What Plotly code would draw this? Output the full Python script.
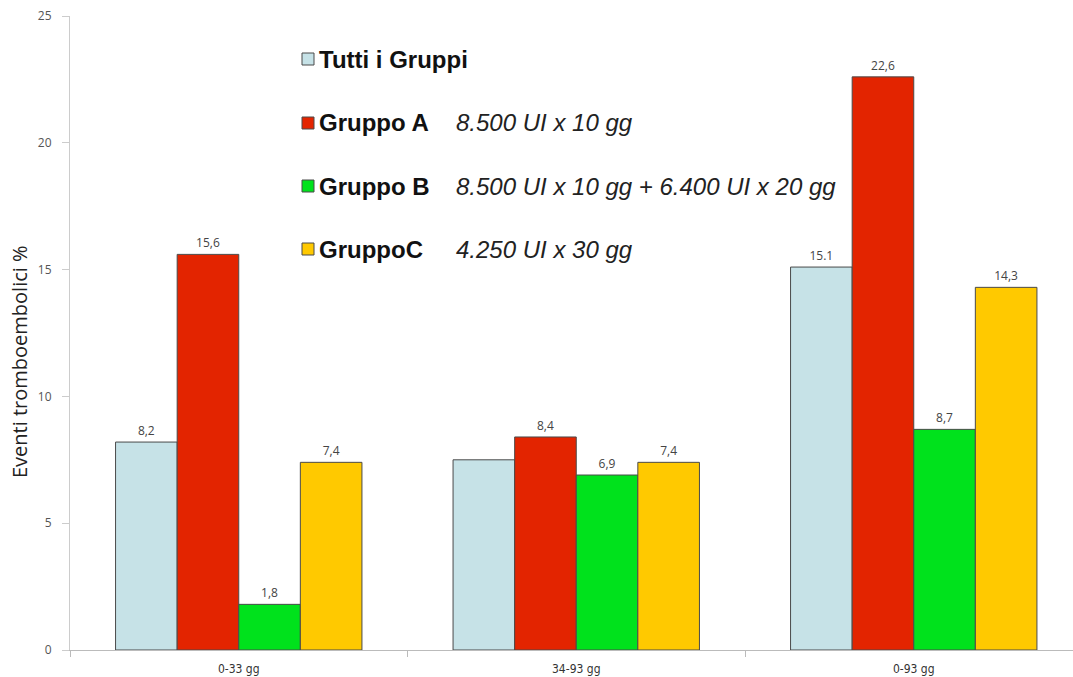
import plotly.graph_objects as go

# Periods of observation
periods = ["0-33 gg", "34-93 gg", "0-93 gg"]

# Thromboembolic event rates (%) per group
tutti = [8.2, 7.5, 15.1]
gruppo_a = [15.6, 8.4, 22.6]
gruppo_b = [1.8, 6.9, 8.7]
gruppo_c = [7.4, 7.4, 14.3]

# Value labels shown above the bars
labels_tutti = ["8,2", "", "15.1"]
labels_a = ["15,6", "8,4", "22,6"]
labels_b = ["1,8", "6,9", "8,7"]
labels_c = ["7,4", "7,4", "14,3"]

series_names = ["Tutti i Gruppi", "Gruppo A", "Gruppo B", "GruppoC"]
series_notes = ["", "8.500 UI x 10 gg", "8.500 UI x 10 gg + 6.400 UI x 20 gg", "4.250 UI x 30 gg"]
colors = ["#C6E2E7", "#E32400", "#00E21C", "#FFC900"]

W, H = 1073, 677
ML, MR, MT, MB = 70, 0, 16, 27
PW, PH = W - ML - MR, H - MT - MB

fig = go.Figure()
for vals, labs, name, col in zip(
    [tutti, gruppo_a, gruppo_b, gruppo_c],
    [labels_tutti, labels_a, labels_b, labels_c],
    series_names, colors,
):
    fig.add_trace(go.Bar(
        x=periods, y=vals, name=name, text=labs,
        textposition="outside", cliponaxis=False,
        textfont=dict(family="Open Sans, Arial", size=12, color="#444444"),
        marker=dict(color=col, line=dict(color="#4a4a4a", width=1)),
    ))

# Custom key with dosing notes
def px_x(px):
    return (px - ML) / PW

def px_y(py):
    return (H - MB - py) / PH

rows_y = [59, 123, 186, 249]
for yy, name, note, col in zip(rows_y, series_names, series_notes, colors):
    fig.add_shape(type="rect", xref="paper", yref="paper",
                  x0=px_x(302), x1=px_x(314), y0=px_y(yy + 6), y1=px_y(yy - 6),
                  fillcolor=col, line=dict(color="#4a4a4a", width=1))
    fig.add_annotation(xref="paper", yref="paper", x=px_x(317), y=px_y(yy),
                       xanchor="left", yanchor="middle", showarrow=False,
                       text="<b>" + name + "</b>",
                       font=dict(family="Liberation Sans, Arial", size=24, color="#111111"))
    if note:
        fig.add_annotation(xref="paper", yref="paper", x=px_x(454), y=px_y(yy),
                           xanchor="left", yanchor="middle", showarrow=False,
                           text="<i>" + note + "</i>",
                           font=dict(family="Liberation Sans, Arial", size=24, color="#222222"))

# Y-axis title
fig.add_annotation(xref="paper", yref="paper", x=px_x(20), y=px_y(362),
                   xanchor="center", yanchor="middle", showarrow=False, textangle=-90,
                   text="Eventi tromboembolici %",
                   font=dict(family="Open Sans, Arial", size=20, color="#222222"))

fig.update_layout(
    width=W, height=H,
    margin=dict(l=ML, r=MR, t=MT, b=MB),
    paper_bgcolor="white", plot_bgcolor="white",
    barmode="group", bargap=0.27, bargroupgap=0,
    showlegend=False,
    xaxis=dict(
        range=[-0.5, -0.5 + PW / 337.5],
        showline=True, linecolor="#bbbbbb", linewidth=1,
        ticks="outside", tickson="boundaries", ticklen=6, tickcolor="#bbbbbb",
        tickfont=dict(family="DejaVu Sans Condensed, Liberation Sans Narrow", size=12, color="#333333"),
        ticklabelstandoff=8,
        showgrid=False,
    ),
    yaxis=dict(
        range=[0, 25], dtick=5,
        showline=True, linecolor="#cccccc", linewidth=1,
        ticks="outside", ticklen=7, tickcolor="#cccccc",
        tickfont=dict(family="Open Sans, Arial", size=12, color="#555555"),
        ticklabelstandoff=8,
        showgrid=False, zeroline=False,
    ),
)

fig.write_html("out.html")
